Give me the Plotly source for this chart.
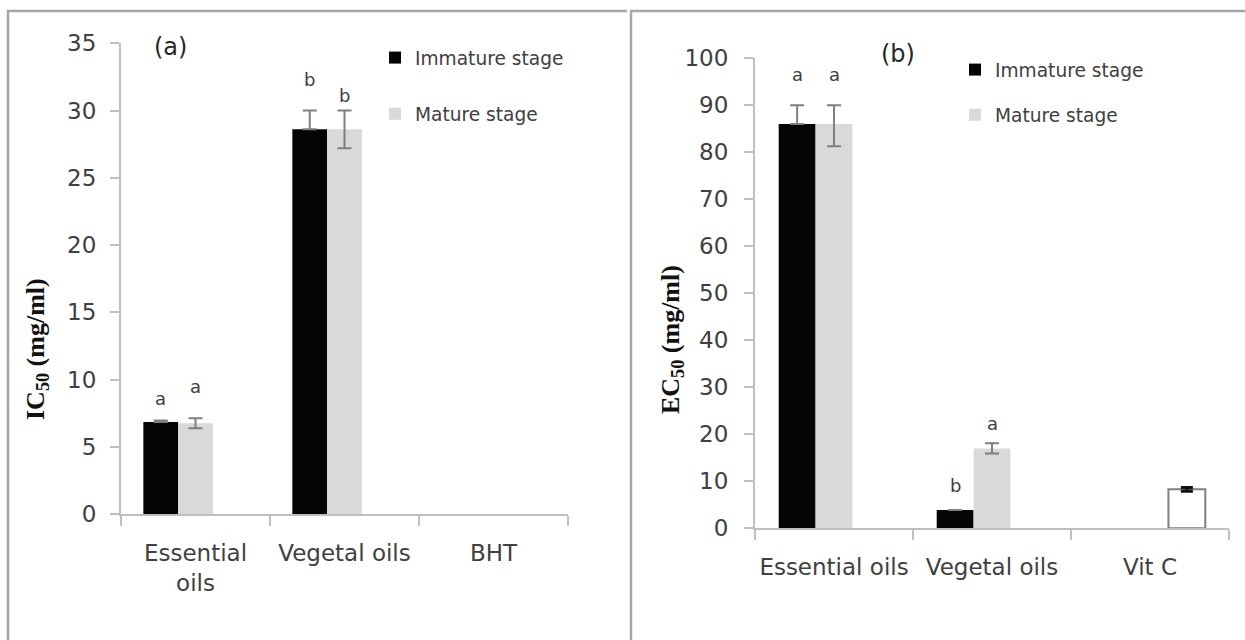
import plotly.graph_objects as go

# ---------------- data ----------------
categories_a = ["Essential<br>oils", "Vegetal oils", "BHT"]
immature_a = [6.85, 28.6, None]
immature_a_plus = [0.1, 1.4, None]
immature_a_minus = [0.0, 0.0, None]
mature_a = [6.75, 28.6, None]
mature_a_err = [0.37, 1.4, None]
standard_a = [None, None, None]

categories_b = ["Essential oils", "Vegetal oils", "Vit C"]
immature_b = [86.0, 3.9, None]
immature_b_plus = [4.0, None, None]
immature_b_minus = [0.0, None, None]
mature_b = [86.0, 17.0, None]
mature_b_plus = [4.0, 1.1, None]
mature_b_minus = [4.7, 1.1, None]
standard_b = [None, None, 8.3]
standard_b_err = [None, None, 0.4]

letters_a_imm = ["a", "b"]
letters_a_imm_y = [8.6, 32.3]
letters_a_mat = ["a", "b"]
letters_a_mat_y = [9.5, 31.1]
letters_b_imm = ["a", "b"]
letters_b_imm_y = [96.5, 9.2]
letters_b_mat = ["a", "a"]
letters_b_mat_y = [96.5, 22.2]

yticks_a = [0, 5, 10, 15, 20, 25, 30, 35]
yticks_b = [0, 10, 20, 30, 40, 50, 60, 70, 80, 90, 100]

# ---------------- styles ----------------
W, H = 1245, 640
BLACK = "#050505"
GREY = "#d9d9d9"
ERR = "#7f7f7f"
AXIS = "#bfbfbf"
TXT = "#404040"
FONT = "DejaVu Sans"
BARGAP = 0.3
NSER = 3


def px_x(p):
    return p / W


def px_y(p):
    return 1 - p / H


fig = go.Figure()

# panel (a)
fig.add_trace(go.Bar(x=categories_a, y=immature_a, name="Immature stage", offsetgroup="1",
                     marker=dict(color=BLACK, line=dict(width=0)),
                     error_y=dict(type="data", symmetric=False, array=immature_a_plus,
                                  arrayminus=immature_a_minus, color=ERR, thickness=2, width=7),
                     xaxis="x", yaxis="y", legend="legend", legendgroup="a1"))
fig.add_trace(go.Bar(x=categories_a, y=mature_a, name="Mature stage", offsetgroup="2",
                     marker=dict(color=GREY, line=dict(width=0)),
                     error_y=dict(type="data", array=mature_a_err, color=ERR, thickness=2, width=7),
                     xaxis="x", yaxis="y", legend="legend", legendgroup="a2"))
fig.add_trace(go.Bar(x=categories_a, y=standard_a, name="BHT", offsetgroup="3",
                     marker=dict(color="white", line=dict(color=ERR, width=2)),
                     xaxis="x", yaxis="y", showlegend=False))

# panel (b)
fig.add_trace(go.Bar(x=categories_b, y=immature_b, name="Immature stage", offsetgroup="1",
                     marker=dict(color=BLACK, line=dict(width=0)),
                     error_y=dict(type="data", symmetric=False, array=immature_b_plus,
                                  arrayminus=immature_b_minus, color=ERR, thickness=2, width=7),
                     xaxis="x2", yaxis="y2", legend="legend2", legendgroup="b1"))
fig.add_trace(go.Bar(x=categories_b, y=mature_b, name="Mature stage", offsetgroup="2",
                     marker=dict(color=GREY, line=dict(width=0)),
                     error_y=dict(type="data", symmetric=False, array=mature_b_plus,
                                  arrayminus=mature_b_minus, color=ERR, thickness=2, width=7),
                     xaxis="x2", yaxis="y2", legend="legend2", legendgroup="b2"))
fig.add_trace(go.Bar(x=categories_b, y=standard_b, name="Vit C", offsetgroup="3",
                     marker=dict(color="white", line=dict(color=ERR, width=2)),
                     error_y=dict(type="data", array=standard_b_err, color="#101010", thickness=3, width=6),
                     xaxis="x2", yaxis="y2", showlegend=False))

axis_common = dict(showline=True, linecolor=AXIS, linewidth=2, ticks="outside",
                   tickcolor=AXIS, tickwidth=2, showgrid=False, zeroline=False,
                   tickfont=dict(family=FONT, size=23, color=TXT))

fig.update_layout(
    width=W, height=H,
    margin=dict(l=0, r=0, t=0, b=0, autoexpand=False),
    paper_bgcolor="white", plot_bgcolor="white",
    barmode="group", bargap=BARGAP, bargroupgap=0,
    font=dict(family=FONT, color=TXT),
    xaxis=dict(domain=[px_x(121), px_x(568)], anchor="y", type="category", tickangle=0,
               tickson="boundaries", ticklen=10, ticklabelstandoff=17, **axis_common),
    yaxis=dict(domain=[px_y(514), px_y(43.3)], anchor="x", range=[0, 35],
               tickvals=yticks_a, ticklen=9, ticklabelstandoff=9, **axis_common),
    xaxis2=dict(domain=[px_x(755), px_x(1229)], anchor="y2", type="category", tickangle=0,
                tickson="boundaries", ticklen=10, ticklabelstandoff=17, **axis_common),
    yaxis2=dict(domain=[px_y(528.3), px_y(58.3)], anchor="x2", range=[0, 100],
                tickvals=yticks_b, ticklen=9, ticklabelstandoff=11, **axis_common),
    legend=dict(x=px_x(375), y=px_y(39), xanchor="left", yanchor="top",
                bgcolor="rgba(0,0,0,0)", tracegroupgap=29, traceorder="grouped",
                font=dict(family=FONT, size=18.6, color=TXT)),
    legend2=dict(x=px_x(955), y=px_y(51), xanchor="left", yanchor="top",
                 bgcolor="rgba(0,0,0,0)", tracegroupgap=18, traceorder="grouped",
                 font=dict(family=FONT, size=18.6, color=TXT)),
)

# significance letters, positioned at each bar's group offset
bw = (1 - BARGAP) / NSER
annotations = []


def add_letters(letters, ys, k, xref, yref):
    for i, (t, yv) in enumerate(zip(letters, ys)):
        annotations.append(dict(x=i + (k - 1) * bw, y=yv, xref=xref, yref=yref, text=t,
                                showarrow=False, font=dict(family=FONT, size=18, color=TXT),
                                xanchor="center", yanchor="middle"))


add_letters(letters_a_imm, letters_a_imm_y, 0, "x", "y")
add_letters(letters_a_mat, letters_a_mat_y, 1, "x", "y")
add_letters(letters_b_imm, letters_b_imm_y, 0, "x2", "y2")
add_letters(letters_b_mat, letters_b_mat_y, 1, "x2", "y2")

# panel tags
annotations.append(dict(x=px_x(170), y=px_y(47), xref="paper", yref="paper", text="(a)",
                        xanchor="center", yanchor="middle",
                        showarrow=False, font=dict(family=FONT, size=24, color="#262626")))
annotations.append(dict(x=px_x(898), y=px_y(54), xref="paper", yref="paper", text="(b)",
                        xanchor="center", yanchor="middle",
                        showarrow=False, font=dict(family=FONT, size=24, color="#262626")))

# y-axis titles
annotations.append(dict(x=px_x(37), y=px_y(349), xref="paper", yref="paper",
                        xanchor="center", yanchor="middle",
                        text="<b>IC<sub>50</sub> (mg/ml)</b>", textangle=-90, showarrow=False,
                        font=dict(family="Liberation Serif", size=26, color="#111111")))
annotations.append(dict(x=px_x(672), y=px_y(340), xref="paper", yref="paper",
                        xanchor="center", yanchor="middle",
                        text="<b>EC<sub>50</sub> (mg/ml)</b>", textangle=-90, showarrow=False,
                        font=dict(family="Liberation Serif", size=26, color="#111111")))

fig.update_layout(annotations=annotations)

# panel frames
border = dict(color="#a6a6a6", width=2.5)
fig.add_shape(type="path", xref="paper", yref="paper",
              path=f"M {px_x(8)},{px_y(640)} L {px_x(8)},{px_y(11)} L {px_x(627)},{px_y(11)}",
              line=border)
fig.add_shape(type="path", xref="paper", yref="paper",
              path=f"M {px_x(631)},{px_y(640)} L {px_x(631)},{px_y(11)} L {px_x(1245)},{px_y(11)}",
              line=border)

fig.write_html("out.html", config={"displayModeBar": False},
               post_script="document.body.style.margin='0px';")
